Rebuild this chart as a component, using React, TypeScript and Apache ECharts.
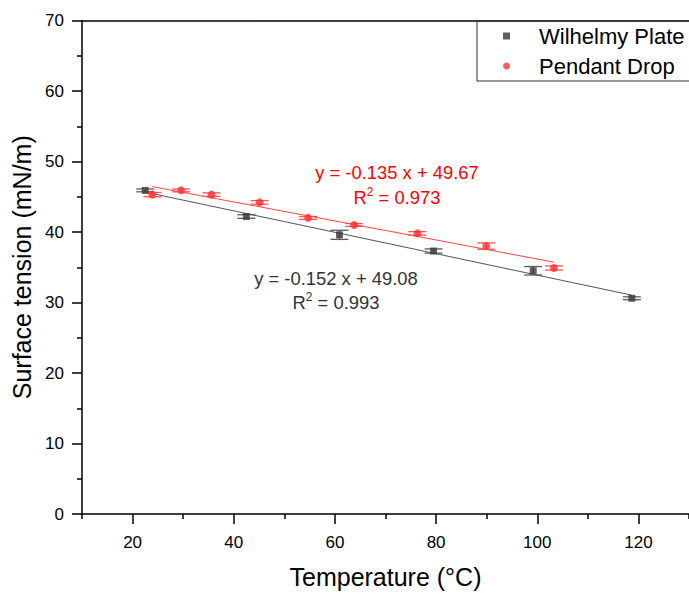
import React, { useEffect, useRef } from "react";
import * as echarts from "echarts";

const FONT = "Liberation Sans, Arial, Helvetica, sans-serif";

// Wilhelmy Plate
const wilhelmyX = [22.5, 42.5, 60.9, 79.5, 99.2, 118.7];
const wilhelmyY = [45.9, 42.2, 39.6, 37.3, 34.5, 30.6];
const wilhelmyErr = [0.2, 0.25, 0.65, 0.3, 0.6, 0.2];

// Pendant Drop
const pendantX = [23.9, 29.6, 35.6, 45.1, 54.7, 63.8, 76.3, 89.9, 103.3];
const pendantY = [45.3, 45.9, 45.3, 44.2, 42.0, 41.0, 39.8, 38.0, 34.9];
const pendantErr = [0.3, 0.2, 0.25, 0.25, 0.2, 0.2, 0.25, 0.45, 0.3];

// Linear fit line endpoints
const wilhelmyFitX = [22.5, 118.7];
const wilhelmyFitY = [45.66, 31.04];
const pendantFitX = [23.9, 103.3];
const pendantFitY = [46.44, 35.72];

// Tick values
const xMajorTicks = [20, 40, 60, 80, 100, 120];
const xMinorTicks = [10, 30, 50, 70, 90, 110, 130];

const BLACK = "#3a3a3a";
const BLACK_ERR = "#5a5a5a";
const RED = "#ff3333";
const RED_ERR = "#ff5252";

function zip(xs: number[], ys: number[], es?: number[]) {
  return xs.map((x, i) => (es ? [x, ys[i], es[i]] : [x, ys[i]]));
}

function errRenderer(color: string) {
  return (params: any, api: any) => {
    const x = api.value(0);
    const y = api.value(1);
    const e = api.value(2);
    const top = api.coord([x, y + e]);
    const bot = api.coord([x, y - e]);
    const hw = 9;
    const style = { stroke: color, lineWidth: 1.3 };
    return {
      type: "group",
      children: [
        { type: "line", shape: { x1: top[0], y1: top[1], x2: bot[0], y2: bot[1] }, style },
        { type: "line", shape: { x1: top[0] - hw, y1: top[1], x2: top[0] + hw, y2: top[1] }, style },
        { type: "line", shape: { x1: bot[0] - hw, y1: bot[1], x2: bot[0] + hw, y2: bot[1] }, style },
      ],
    };
  };
}

export default function App() {
  const ref = useRef<HTMLDivElement>(null);
  useEffect(() => {
    if (!ref.current) return;
    const chart = echarts.init(ref.current, undefined, { renderer: "svg" });
    const axisLine = { show: true, onZero: false, lineStyle: { color: "#000", width: 1.5 } };
    const tickStyle = { color: "#000", width: 1.5 };
    chart.setOption({
      animation: false,
      backgroundColor: "#fff",
      textStyle: { fontFamily: FONT },
      grid: { left: 82, top: 20.5, width: 614, height: 495.5, containLabel: false },
      legend: {
        left: 477,
        top: 20.5,
        orient: "vertical",
        borderColor: "#333",
        borderWidth: 1,
        padding: [4.5, 60, 4, 26],
        itemWidth: 7,
        itemHeight: 7,
        itemGap: 8,
        textStyle: { fontSize: 22, color: "#000", fontFamily: FONT, lineHeight: 22, padding: [0, 0, 0, 24] },
        data: [
          { name: "Wilhelmy Plate", icon: "rect" },
          { name: "Pendant Drop", icon: "circle" },
        ],
      },
      xAxis: [
        {
          type: "value",
          min: 10,
          max: 130,
          position: "bottom",
          axisLine,
          axisTick: { show: true, customValues: xMajorTicks, length: 10, lineStyle: tickStyle },
          axisLabel: { customValues: xMajorTicks, fontSize: 17, color: "#000", margin: 20, fontFamily: FONT },
          splitLine: { show: false },
          name: "Temperature (°C)",
          nameLocation: "middle",
          nameGap: 50,
          nameTextStyle: { fontSize: 25, color: "#000", fontFamily: FONT },
        },
        {
          type: "value",
          min: 10,
          max: 130,
          position: "bottom",
          axisLine: { show: false },
          axisTick: { show: true, customValues: xMinorTicks, length: 5, lineStyle: tickStyle },
          axisLabel: { show: false },
          splitLine: { show: false },
        },
        {
          type: "value",
          min: 10,
          max: 130,
          position: "top",
          axisLine,
          axisTick: { show: false },
          axisLabel: { show: false },
          splitLine: { show: false },
        },
      ],
      yAxis: {
        type: "value",
        min: 0,
        max: 70,
        interval: 10,
        axisLine,
        axisTick: { show: true, length: 10, lineStyle: tickStyle },
        minorTick: { show: true, splitNumber: 2, length: 5, lineStyle: tickStyle },
        axisLabel: { fontSize: 17, color: "#000", margin: 18, fontFamily: FONT },
        splitLine: { show: false },
        minorSplitLine: { show: false },
        name: "Surface tension (mN/m)",
        nameLocation: "middle",
        nameGap: 47,
        nameTextStyle: { fontSize: 25, color: "#000", fontFamily: FONT },
      },
      series: [
        {
          name: "Wilhelmy Plate",
          type: "scatter",
          data: zip(wilhelmyX, wilhelmyY),
          symbol: "rect",
          symbolSize: 7,
          itemStyle: { color: BLACK },
          z: 5,
        },
        {
          name: "Pendant Drop",
          type: "scatter",
          data: zip(pendantX, pendantY),
          symbol: "circle",
          symbolSize: 8,
          itemStyle: { color: RED },
          z: 5,
        },
        {
          name: "Wilhelmy Plate fit",
          type: "line",
          data: zip(wilhelmyFitX, wilhelmyFitY),
          showSymbol: false,
          symbol: "none",
          lineStyle: { color: "#555", width: 1 },
          z: 2,
        },
        {
          name: "Pendant Drop fit",
          type: "line",
          data: zip(pendantFitX, pendantFitY),
          showSymbol: false,
          symbol: "none",
          lineStyle: { color: "#ff4444", width: 1 },
          z: 2,
        },
        {
          name: "Wilhelmy Plate error",
          type: "custom",
          data: zip(wilhelmyX, wilhelmyY, wilhelmyErr),
          encode: { x: 0, y: 1 },
          renderItem: errRenderer(BLACK_ERR),
          z: 3,
        },
        {
          name: "Pendant Drop error",
          type: "custom",
          data: zip(pendantX, pendantY, pendantErr),
          encode: { x: 0, y: 1 },
          renderItem: errRenderer(RED_ERR),
          z: 3,
        },
      ],
      graphic: [
        {
          type: "text",
          x: 397,
          y: 172,
          style: { text: "y = -0.135 x + 49.67", fill: "#ff0000", fontSize: 18.4, fontFamily: FONT, align: "center", verticalAlign: "middle" },
        },
        {
          type: "text",
          x: 397,
          y: 197,
          style: {
            text: "R{sup|2} = 0.973",
            fill: "#ff0000",
            fontSize: 18.4,
            fontFamily: FONT,
            align: "center",
            verticalAlign: "middle",
            rich: { sup: { fontSize: 12, fill: "#ff0000", fontFamily: FONT, verticalAlign: "top", lineHeight: 22 } },
          },
        },
        {
          type: "text",
          x: 336,
          y: 278.5,
          style: { text: "y = -0.152 x + 49.08", fill: "#333", fontSize: 18.4, fontFamily: FONT, align: "center", verticalAlign: "middle" },
        },
        {
          type: "text",
          x: 336,
          y: 302,
          style: {
            text: "R{sup|2} = 0.993",
            fill: "#333",
            fontSize: 18.4,
            fontFamily: FONT,
            align: "center",
            verticalAlign: "middle",
            rich: { sup: { fontSize: 12, fill: "#333", fontFamily: FONT, verticalAlign: "top", lineHeight: 22 } },
          },
        },
      ],
    });
    return () => chart.dispose();
  }, []);
  return (
    <div
      ref={ref}
      style={{ position: "fixed", left: 0, top: 0, width: 689, height: 594, background: "#fff" }}
    />
  );
}
